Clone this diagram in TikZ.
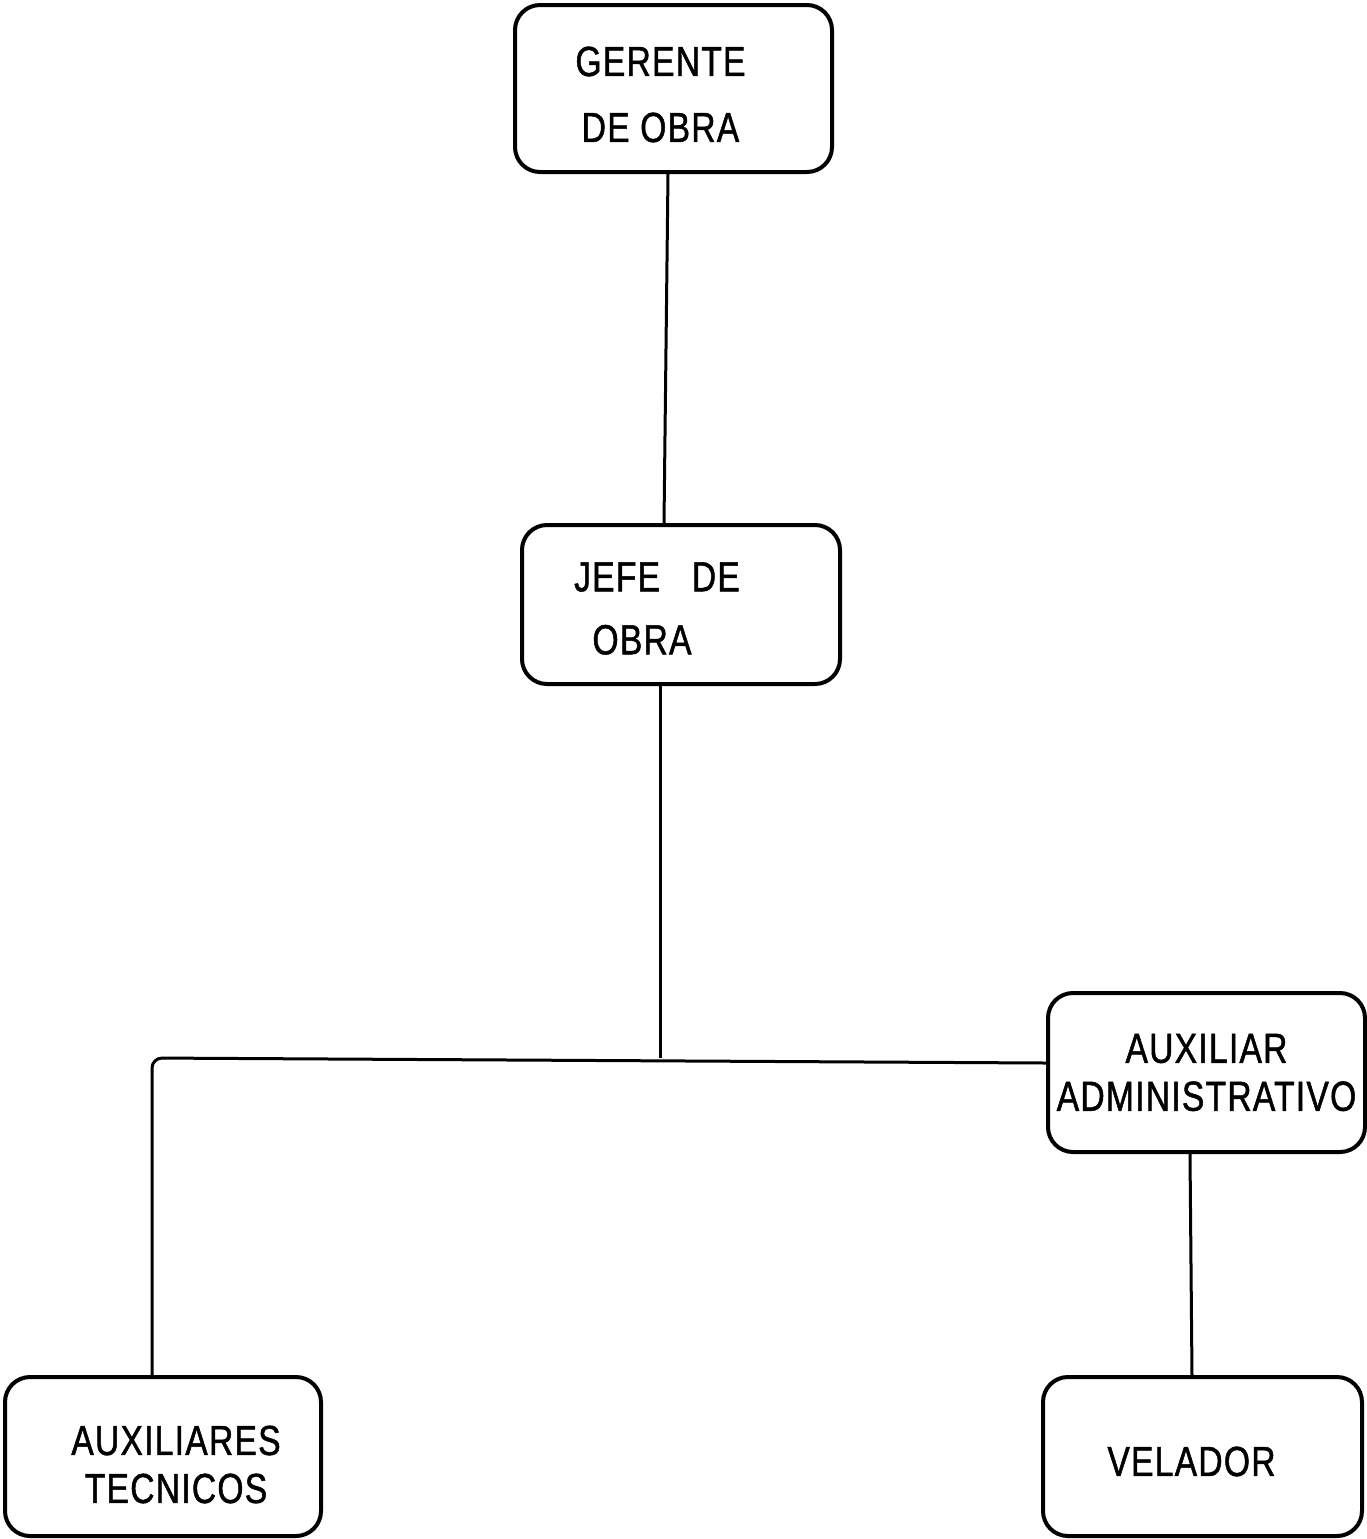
\documentclass[tikz,border=0pt]{standalone}
\usepackage{fontspec}
\setmainfont{Liberation Sans}[FakeStretch=0.8, FakeBold=1.2, LetterSpace=3]
\begin{document}
\begin{tikzpicture}[x=0.5pt,y=-0.5pt,
  unit/.style={draw, line width=2pt, rounded corners=12.5pt, inner sep=0pt},
  caption/.style={align=center, inner sep=0pt, font=\fontsize{21}{24}\selectfont},
  link/.style={line width=1.5pt}]
\useasboundingbox (0,0) rectangle (1367,1539);

% boxes
\node[unit, minimum width=158.5pt, minimum height=83.5pt] (ger) at (673.5,88.5) {};
\node[unit, minimum width=159pt, minimum height=79.5pt] (jefe) at (681,604.5) {};
\node[unit, minimum width=158.5pt, minimum height=79.5pt] (adm) at (1206.5,1072.5) {};
\node[unit, minimum width=158pt, minimum height=79.5pt] (tec) at (163,1456.5) {};
\node[unit, minimum width=159.5pt, minimum height=79.5pt] (vel) at (1202.5,1456.5) {};

% box texts
\node[caption] (gerT) at ([xshift=-6.5pt,yshift=-3pt]ger.center) {GERENTE\\[9pt]DE OBRA};
\node[caption] (jefeT) at ([xshift=-12pt,yshift=-2pt]jefe.center) {JEFE\ \ \ DE\\[7.5pt]\hspace*{-15pt}OBRA};
\node[caption] (admT) at (adm.center) {AUXILIAR\\ADMINISTRATIVO};
\node[caption] (tecT) at ([xshift=6.5pt,yshift=-4pt]tec.center) {AUXILIARES\\TECNICOS};
\node[caption] (velT) at ([xshift=-5.5pt,yshift=-2.5pt]vel.center) {VELADOR};

\coordinate (j) at (660,1058);
\coordinate (lc) at (152,1058);

% connectors
\draw[link] ([xshift=-2.75pt]ger.south) -- ([xshift=-8.5pt]jefe.north);
\draw[link] ([xshift=-10.5pt]jefe.south) -- (j);
\draw[link, rounded corners=5pt] ([xshift=-5.5pt]tec.north) -- (lc) -- ([yshift=4.75pt]adm.west);
\draw[link] ([xshift=-8.25pt]adm.south) -- ([xshift=-5.25pt]vel.north);
\end{tikzpicture}
\end{document}
